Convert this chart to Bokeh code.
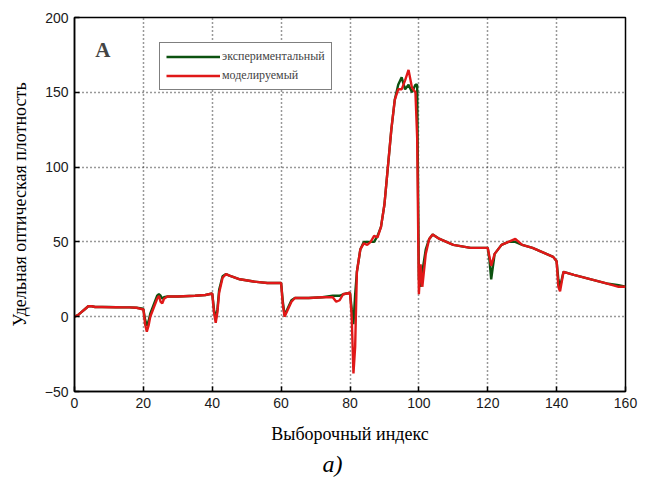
from bokeh.plotting import figure
from bokeh.models import (ColumnDataSource, Range1d, Legend, LegendItem,
                          Label, Title, FixedTicker)
from bokeh.embed import file_html
from bokeh.resources import INLINE

# ---- data ----
sample_index = [0, 1, 2, 3, 4, 5, 6, 8, 10, 12, 14, 16, 18, 19.5, 20, 20.5, 21, 21.5, 22, 23, 24,
                24.5, 25, 25.5, 26, 27, 30, 35, 38, 40, 40.5, 41, 41.5, 42, 43, 44, 45, 48, 52,
                56, 60, 60.5, 61, 62, 63, 64, 68, 72, 75, 76, 77, 78, 80, 80.5, 81, 81.5, 82,
                83, 84, 85, 86, 87, 88, 89, 90, 91, 92, 93, 94, 95, 96, 97, 98, 99, 99.5, 100,
                100.5, 101, 102, 103, 104, 106, 110, 115, 120, 120.5, 121, 122, 124, 126, 128,
                130, 133, 136, 139, 140, 140.5, 141, 142, 145, 150, 155, 158, 160]
experimental = [0, 1, 3, 5, 7, 7, 6.5, 6.5, 6.5, 6.3, 6.2, 6.2, 6, 5.5, 5, -2, -6, -3, 2, 8, 14,
                15, 14, 12, 13, 13.5, 13.5, 14, 14.5, 15.5, 5, -2, 5, 18, 27, 28.5, 27.5, 25, 23.5,
                22.5, 22.5, 10, 1, 6, 11, 12.5, 12.5, 13, 14, 14, 14, 15, 16, 5, -5, 15, 30,
                45, 50, 50, 50, 50, 54, 60, 75, 100, 125, 145, 155, 160, 152, 155, 150, 155, 155, 25,
                20, 30, 45, 52, 55, 52, 48, 46, 46, 38, 25, 42, 48, 50, 50,
                48, 46, 43, 40, 37, 25, 20, 30, 28, 25, 22, 21, 20]
modeled = [0, 1, 3, 5, 7, 7, 6.5, 6.5, 6.3, 6.3, 6.2, 6.2, 6, 5, 5, -5, -10, -6, 0, 6, 12,
           14, 10, 9, 12, 13.5, 13.5, 14, 14.5, 15.5, 3, -4, 3, 16, 26, 28.5, 27.5, 25, 23.5,
           22.5, 22.5, 8, 0, 5, 10, 12.5, 12.5, 13, 13, 10, 11, 15, 16, 0, -38, -20, 30,
           45, 49, 48, 50, 54, 53, 60, 75, 100, 125, 145, 152, 152, 158, 165, 153, 150, 120, 15,
           35, 20, 42, 52, 55, 52, 48, 46, 46, 40, 34, 42, 48, 50, 52,
           48, 46, 43, 40, 37, 20, 17, 30, 28, 25, 22, 20, 20]
series_names = ["экспериментальный", "моделируемый"]
x_ticks = [0, 20, 40, 60, 80, 100, 120, 140, 160]
y_ticks = [-50, 0, 50, 100, 150, 200]

src = ColumnDataSource(dict(x=sample_index, exp=experimental, mod=modeled))

SERIF = "Liberation Serif"
SANS = "Liberation Sans"

p = figure(width=651, height=486, output_backend="svg", toolbar_location=None,
           x_range=Range1d(0, 160), y_range=Range1d(-50, 200),
           min_border_left=74, min_border_right=26, min_border_top=17, min_border_bottom=95)
p.background_fill_color = "white"
p.border_fill_color = "white"
p.outline_line_color = "black"
p.outline_line_width = 1.5

g = p.line("x", "exp", source=src, line_color="#0c5210", line_width=2.4)
r = p.line("x", "mod", source=src, line_color="#e01818", line_width=2.4)

for ax in (p.xaxis[0], p.yaxis[0]):
    ax.major_label_text_font = SANS
    ax.major_label_text_font_size = "14px"
    ax.major_label_text_color = "#1a1a1a"
    ax.axis_label_text_font = SERIF
    ax.axis_label_text_font_size = "18px"
    ax.axis_label_text_font_style = "normal"
    ax.axis_label_text_color = "black"
    ax.major_tick_in = 5
    ax.major_tick_out = 0
    ax.minor_tick_line_color = None
    ax.axis_line_color = "black"
    ax.axis_line_width = 1.5
    ax.major_tick_line_color = "black"
    ax.major_tick_line_width = 1.5

p.xaxis[0].ticker = FixedTicker(ticks=x_ticks)
p.yaxis[0].ticker = FixedTicker(ticks=y_ticks)
p.xaxis[0].axis_label = "Выборочный индекс"
p.yaxis[0].axis_label = "Удельная оптическая плотность"
p.xaxis[0].major_label_standoff = 6
p.xaxis[0].axis_label_standoff = 13
p.yaxis[0].major_label_standoff = 6
p.yaxis[0].axis_label_standoff = 12

p.grid.grid_line_color = "#333333"
p.grid.grid_line_dash = "1 3"
p.grid.grid_line_width = 1.5
p.xgrid.ticker = FixedTicker(ticks=x_ticks)
p.ygrid.ticker = FixedTicker(ticks=y_ticks)

legend = Legend(items=[LegendItem(label=series_names[0], renderers=[g]),
                       LegendItem(label=series_names[1], renderers=[r])],
                location=(85, 301), label_text_font=SERIF, label_text_font_size="12px",
                glyph_width=54, glyph_height=15, label_height=15, label_standoff=2,
                spacing=4, padding=6, margin=0,
                border_line_color="black", border_line_width=1.5,
                background_fill_color="white", background_fill_alpha=1)
p.add_layout(legend)

p.add_layout(Label(x=6, y=178, text="A", text_font=SERIF, text_font_size="21px",
                   text_font_style="bold", text_baseline="middle", text_align="left"))

p.add_layout(Title(text="a)", align="left", offset=248, text_font=SERIF, text_font_size="24px",
                   text_font_style="italic", text_color="black", standoff=5), "below")

open("out.html", "w").write(file_html(p, INLINE))
